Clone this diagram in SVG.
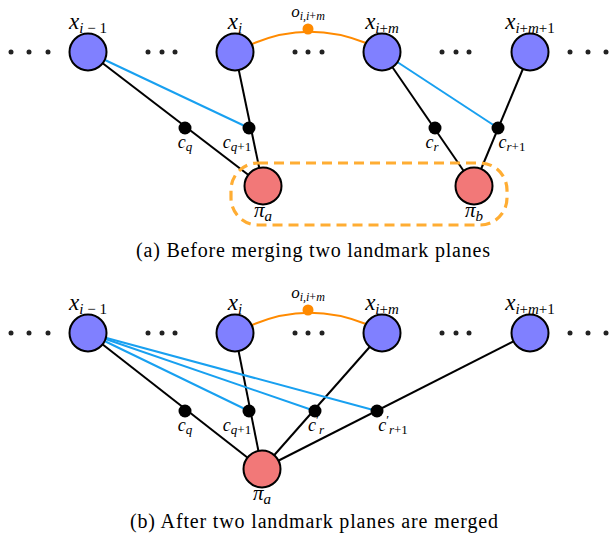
<svg xmlns="http://www.w3.org/2000/svg" width="610" height="533" viewBox="0 0 610 533">
<style>
.bn{fill:#8080FF;stroke:#000;stroke-width:2}
.rn{fill:#F27878;stroke:#000;stroke-width:2}
.pt{fill:#000}
.dot{fill:#222}
.bl{stroke:#000;stroke-width:2;fill:none}
.cy{stroke:#18A0F0;stroke-width:2;fill:none}
.or{stroke:#FF8A00;stroke-width:2;fill:none}
.m{font-family:"Liberation Serif","Times New Roman",serif;font-style:italic;fill:#000}
.u{font-style:normal}
.cap{font-family:"Liberation Serif","Times New Roman",serif;font-size:20px;fill:#000}
</style>
<g id="connectors">
<line class="bl" x1="88" y1="52" x2="263" y2="186"/>
<line class="bl" x1="235" y1="52" x2="263" y2="186"/>
<line class="bl" x1="382" y1="52" x2="474" y2="186"/>
<line class="bl" x1="530" y1="52" x2="474" y2="186"/>
<line class="cy" x1="88" y1="52" x2="249" y2="128"/>
<line class="cy" x1="382" y1="52" x2="498" y2="128"/>
<path class="or" d="M252,44 Q308,20 366,43"/>
<line class="bl" x1="88" y1="333" x2="262" y2="469"/>
<line class="bl" x1="235" y1="333" x2="262" y2="469"/>
<line class="bl" x1="382" y1="333" x2="262" y2="469"/>
<line class="bl" x1="530" y1="333" x2="262" y2="469"/>
<line class="cy" x1="88" y1="333" x2="249" y2="411"/>
<line class="cy" x1="88" y1="333" x2="315" y2="411"/>
<line class="cy" x1="88" y1="333" x2="377" y2="411"/>
<path class="or" d="M252,325 Q308,301 366,324"/>
</g>
<g id="dots">
<circle class="dot" cx="11" cy="52" r="2.5"/><circle class="dot" cx="29" cy="52" r="2.5"/><circle class="dot" cx="48" cy="52" r="2.5"/>
<circle class="dot" cx="148" cy="52" r="2.5"/><circle class="dot" cx="162" cy="52" r="2.5"/><circle class="dot" cx="175" cy="52" r="2.5"/>
<circle class="dot" cx="295" cy="52" r="2.5"/><circle class="dot" cx="308" cy="52" r="2.5"/><circle class="dot" cx="322" cy="52" r="2.5"/>
<circle class="dot" cx="442" cy="52" r="2.5"/><circle class="dot" cx="456" cy="52" r="2.5"/><circle class="dot" cx="469" cy="52" r="2.5"/>
<circle class="dot" cx="570" cy="52" r="2.5"/><circle class="dot" cx="588" cy="52" r="2.5"/><circle class="dot" cx="606" cy="52" r="2.5"/>
<circle class="dot" cx="11" cy="333" r="2.5"/><circle class="dot" cx="29" cy="333" r="2.5"/><circle class="dot" cx="48" cy="333" r="2.5"/>
<circle class="dot" cx="148" cy="333" r="2.5"/><circle class="dot" cx="162" cy="333" r="2.5"/><circle class="dot" cx="175" cy="333" r="2.5"/>
<circle class="dot" cx="295" cy="333" r="2.5"/><circle class="dot" cx="308" cy="333" r="2.5"/><circle class="dot" cx="322" cy="333" r="2.5"/>
<circle class="dot" cx="442" cy="333" r="2.5"/><circle class="dot" cx="456" cy="333" r="2.5"/><circle class="dot" cx="469" cy="333" r="2.5"/>
<circle class="dot" cx="570" cy="333" r="2.5"/><circle class="dot" cx="588" cy="333" r="2.5"/><circle class="dot" cx="606" cy="333" r="2.5"/>
</g>
<g id="group-box">
<rect x="231" y="163" width="276" height="62" rx="27" fill="none" stroke="#FFAD33" stroke-width="3.2" stroke-dasharray="10,6"/>
</g>
<g id="a-xim1"><circle class="bn" cx="88" cy="52" r="18.5"/>
<text class="m" x="88" y="29" text-anchor="middle" font-size="23">x<tspan dy="4" font-size="15">i</tspan><tspan class="u" font-size="15"> − 1</tspan></text></g>
<g id="a-xi"><circle class="bn" cx="235" cy="52" r="18.5"/>
<text class="m" x="235" y="29" text-anchor="middle" font-size="23">x<tspan dy="4" font-size="15">i</tspan></text></g>
<g id="a-xim"><circle class="bn" cx="382" cy="52" r="18.5"/>
<text class="m" x="382" y="29" text-anchor="middle" font-size="23">x<tspan dy="4" font-size="15">i</tspan><tspan class="u" font-size="15">+</tspan><tspan font-size="15">m</tspan></text></g>
<g id="a-xim1p"><circle class="bn" cx="530" cy="52" r="18.5"/>
<text class="m" x="530" y="29" text-anchor="middle" font-size="23">x<tspan dy="4" font-size="15">i</tspan><tspan class="u" font-size="15">+</tspan><tspan font-size="15">m</tspan><tspan class="u" font-size="15">+1</tspan></text></g>
<g id="a-o"><circle cx="308" cy="29" r="5.5" fill="#FF8A00"/>
<text class="m" x="308" y="17" text-anchor="middle" font-size="17">o<tspan dy="3" font-size="12">i,i</tspan><tspan class="u" font-size="12">+</tspan><tspan font-size="12">m</tspan></text></g>
<g id="a-cq"><circle class="pt" cx="185" cy="128" r="6.5"/>
<text class="m" x="185" y="148" text-anchor="middle" font-size="18">c<tspan dy="3" font-size="13">q</tspan></text></g>
<g id="a-cq1"><circle class="pt" cx="249" cy="128" r="6.5"/>
<text class="m" x="237" y="148" text-anchor="middle" font-size="18">c<tspan dy="3" font-size="13">q</tspan><tspan class="u" font-size="13">+1</tspan></text></g>
<g id="a-cr"><circle class="pt" cx="435" cy="128" r="6.5"/>
<text class="m" x="432" y="148" text-anchor="middle" font-size="18">c<tspan dy="3" font-size="13">r</tspan></text></g>
<g id="a-cr1"><circle class="pt" cx="498" cy="128" r="6.5"/>
<text class="m" x="512" y="148" text-anchor="middle" font-size="18">c<tspan dy="3" font-size="13">r</tspan><tspan class="u" font-size="13">+1</tspan></text></g>
<g id="a-pia"><circle class="rn" cx="263" cy="186" r="18.5"/>
<text class="m" x="263" y="217" text-anchor="middle" font-size="21">π<tspan dy="4" font-size="15">a</tspan></text></g>
<g id="a-pib"><circle class="rn" cx="474" cy="186" r="18.5"/>
<text class="m" x="474" y="217" text-anchor="middle" font-size="21">π<tspan dy="4" font-size="15">b</tspan></text></g>
<text class="cap" x="313" y="257" text-anchor="middle" textLength="354" lengthAdjust="spacing">(a) Before merging two landmark planes</text>

<g id="b-xim1"><circle class="bn" cx="88" cy="333" r="18.5"/>
<text class="m" x="88" y="310" text-anchor="middle" font-size="23">x<tspan dy="4" font-size="15">i</tspan><tspan class="u" font-size="15"> − 1</tspan></text></g>
<g id="b-xi"><circle class="bn" cx="235" cy="333" r="18.5"/>
<text class="m" x="235" y="310" text-anchor="middle" font-size="23">x<tspan dy="4" font-size="15">i</tspan></text></g>
<g id="b-xim"><circle class="bn" cx="382" cy="333" r="18.5"/>
<text class="m" x="382" y="310" text-anchor="middle" font-size="23">x<tspan dy="4" font-size="15">i</tspan><tspan class="u" font-size="15">+</tspan><tspan font-size="15">m</tspan></text></g>
<g id="b-xim1p"><circle class="bn" cx="530" cy="333" r="18.5"/>
<text class="m" x="530" y="310" text-anchor="middle" font-size="23">x<tspan dy="4" font-size="15">i</tspan><tspan class="u" font-size="15">+</tspan><tspan font-size="15">m</tspan><tspan class="u" font-size="15">+1</tspan></text></g>
<g id="b-o"><circle cx="308" cy="310" r="5.5" fill="#FF8A00"/>
<text class="m" x="308" y="298" text-anchor="middle" font-size="17">o<tspan dy="3" font-size="12">i,i</tspan><tspan class="u" font-size="12">+</tspan><tspan font-size="12">m</tspan></text></g>
<g id="b-cq"><circle class="pt" cx="185" cy="411" r="6.5"/>
<text class="m" x="185" y="431" text-anchor="middle" font-size="18">c<tspan dy="3" font-size="13">q</tspan></text></g>
<g id="b-cq1"><circle class="pt" cx="249" cy="411" r="6.5"/>
<text class="m" x="237" y="431" text-anchor="middle" font-size="18">c<tspan dy="3" font-size="13">q</tspan><tspan class="u" font-size="13">+1</tspan></text></g>
<g id="b-cr"><circle class="pt" cx="315" cy="411" r="6.5"/>
<text class="m" x="316" y="431" text-anchor="middle" font-size="18">c<tspan class="u" dy="-7" font-size="13">′</tspan><tspan dy="10" font-size="13">r</tspan></text></g>
<g id="b-cr1"><circle class="pt" cx="377" cy="411" r="6.5"/>
<text class="m" x="393" y="431" text-anchor="middle" font-size="18">c<tspan class="u" dy="-7" font-size="13">′</tspan><tspan dy="10" font-size="13">r</tspan><tspan class="u" font-size="13">+1</tspan></text></g>
<g id="b-pia"><circle class="rn" cx="262" cy="469" r="18.5"/>
<text class="m" x="262" y="500" text-anchor="middle" font-size="21">π<tspan dy="4" font-size="15">a</tspan></text></g>
<text class="cap" x="314" y="528" text-anchor="middle" textLength="368" lengthAdjust="spacing">(b) After two landmark planes are merged</text>
</svg>
